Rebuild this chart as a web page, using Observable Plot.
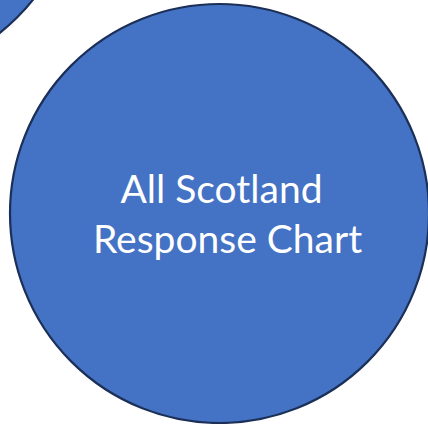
<!DOCTYPE html>
<html>
<head>
<meta charset="utf-8">
<script src="https://cdn.jsdelivr.net/npm/d3@7"></script>
<script src="https://cdn.jsdelivr.net/npm/@observablehq/plot@0.6"></script>
<style>
  html, body { margin: 0; padding: 0; background: #ffffff; overflow: hidden; }
  #chart svg { display: block; }
</style>
</head>
<body>
<div id="chart"></div>
<script>
// Diagram nodes (circles), in page pixel units
const nodeNames = ["corner", "main"];
const nodeX = [-131, 219];
const nodeY = [-131, 213];
const nodeR = [209, 209.5];

// Label lines of the main node
const labelLines = ["All Scotland", "Response Chart"];
const labelX = [221, 227];
const labelY = [202, 252];

const nodes = nodeNames.map((name, i) => ({name, x: nodeX[i], y: nodeY[i], r: nodeR[i]}));
const labels = labelLines.map((t, i) => ({t, x: labelX[i], y: labelY[i]}));

const W = 428, H = 424;
const chart = Plot.plot({
  width: W,
  height: H,
  margin: 0,
  x: {domain: [0, W], range: [0, W], axis: null},
  y: {domain: [0, H], range: [0, H], axis: null},
  r: {type: "identity"},
  style: {background: "#ffffff"},
  marks: [
    Plot.dot(nodes, {x: "x", y: "y", r: "r", fill: "#4472C4", stroke: "#1b2f57", strokeWidth: 2.2}),
    Plot.text(labels, {
      x: "x", y: "y", text: "t",
      fill: "#ffffff",
      fontSize: 39,
      fontFamily: "Lato, 'Open Sans', sans-serif",
      textAnchor: "middle",
      lineAnchor: "bottom"
    })
  ]
});
document.getElementById("chart").appendChild(chart);
</script>
</body>
</html>
